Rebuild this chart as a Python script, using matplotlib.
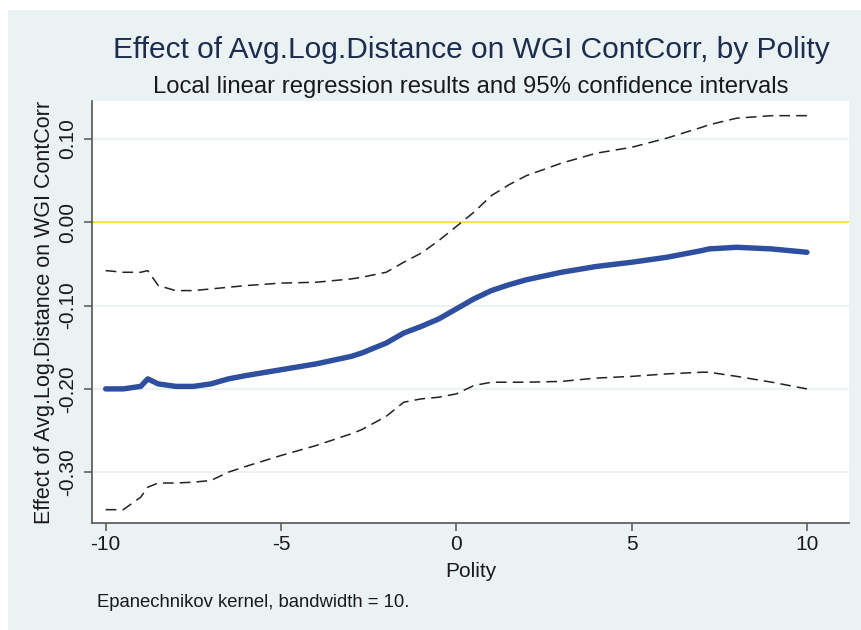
import matplotlib.pyplot as plt
from matplotlib.patches import Rectangle

# Polity grid points and estimates
polity = [-10, -9.5, -9, -8.8, -8.5, -8, -7.5, -7, -6.5, -6, -5, -4, -3, -2.7,
          -2, -1.5, -1, -0.5, 0, 0.5, 1, 1.5, 2, 3, 4, 5, 6, 7, 7.2, 8, 9, 10]
effect = [-0.200, -0.200, -0.197, -0.188, -0.194, -0.197, -0.197, -0.194, -0.188,
          -0.184, -0.177, -0.170, -0.161, -0.157, -0.145, -0.133, -0.125, -0.116,
          -0.104, -0.092, -0.082, -0.075, -0.069, -0.060, -0.053, -0.048, -0.042,
          -0.034, -0.032, -0.030, -0.032, -0.036]
upper = [-0.058, -0.060, -0.060, -0.058, -0.076, -0.082, -0.082, -0.080, -0.078,
         -0.076, -0.073, -0.072, -0.068, -0.066, -0.060, -0.048, -0.037, -0.022,
         -0.005, 0.012, 0.032, 0.045, 0.056, 0.071, 0.083, 0.090, 0.101, 0.114,
         0.117, 0.125, 0.128, 0.128]
lower = [-0.345, -0.345, -0.330, -0.318, -0.313, -0.313, -0.312, -0.310, -0.300,
         -0.293, -0.280, -0.268, -0.254, -0.249, -0.233, -0.216, -0.212, -0.210,
         -0.206, -0.196, -0.192, -0.192, -0.192, -0.191, -0.187, -0.185, -0.182,
         -0.180, -0.180, -0.185, -0.192, -0.200]

yticks = [-0.30, -0.20, -0.10, 0.00, 0.10]
ytick_labels = ['-0.30', '-0.20', '-0.10', '0.00', '0.10']
xticks = [-10, -5, 0, 5, 10]

plt.rcParams['font.family'] = ['Liberation Sans', 'DejaVu Sans']

W, H = 861, 630
fig = plt.figure(figsize=(W / 100, H / 100), dpi=100, facecolor='white')
fig.patches.append(Rectangle((8 / W, 0), 1, (H - 10) / H, transform=fig.transFigure,
                             facecolor='#EAF2F3', edgecolor='none', zorder=-10))

ax = fig.add_axes([92 / W, 1 - 523 / H, (849 - 92) / W, (523 - 101) / H])
ax.set_facecolor('white')

for yt in yticks:
    if yt != 0:
        ax.axhline(yt, color='#EAF2F3', lw=1.5, zorder=1)
ax.axhline(0, color='#F2E81C', lw=1.3, zorder=2)

ax.plot(polity, upper, color='#222222', lw=1.1, dashes=(7, 4), zorder=3)
ax.plot(polity, lower, color='#222222', lw=1.1, dashes=(7, 4), zorder=3)
ax.plot(polity, effect, color='#2E4F9F', lw=3.9, solid_capstyle='round', zorder=4)

ax.set_xlim(-10.39, 11.2)
ax.set_ylim(-0.361, 0.1456)
ax.set_xticks(xticks)
ax.set_xticklabels([str(x) for x in xticks], fontsize=15, color='#1a1a1a')
ax.set_yticks(yticks)
ax.set_yticklabels(ytick_labels, fontsize=15, color='#1a1a1a', rotation=90, va='center')

for s in ['top', 'right']:
    ax.spines[s].set_visible(False)
for s in ['left', 'bottom']:
    ax.spines[s].set_color('#555555')
    ax.spines[s].set_linewidth(1.2)
ax.tick_params(direction='out', length=6, width=1.1, color='#555555')
ax.tick_params(axis='x', pad=3)
ax.tick_params(axis='y', pad=4.5)

ax.set_xlabel('Polity', fontsize=15, color='#1a1a1a', va='baseline')
ax.xaxis.set_label_coords(0.5, (523 - 577) / 422)
ax.set_ylabel('Effect of Avg.Log.Distance on WGI ContCorr', fontsize=15.5,
              color='#1a1a1a', va='baseline')
ax.yaxis.set_label_coords(-(92 - 50) / 757, 0.5)

fig.text(471 / W, 1 - 58 / H, 'Effect of Avg.Log.Distance on WGI ContCorr, by Polity',
         ha='center', va='baseline', fontsize=21.5, color='#1C2D4F')
fig.text(471 / W, 1 - 93 / H, 'Local linear regression results and 95% confidence intervals',
         ha='center', va='baseline', fontsize=17.2, color='#1a1a1a')
fig.text(97 / W, 1 - 607 / H, 'Epanechnikov kernel, bandwidth = 10.',
         ha='left', va='baseline', fontsize=13.3, color='#1a1a1a')

fig.savefig('out.png', dpi=100, facecolor=fig.get_facecolor())
